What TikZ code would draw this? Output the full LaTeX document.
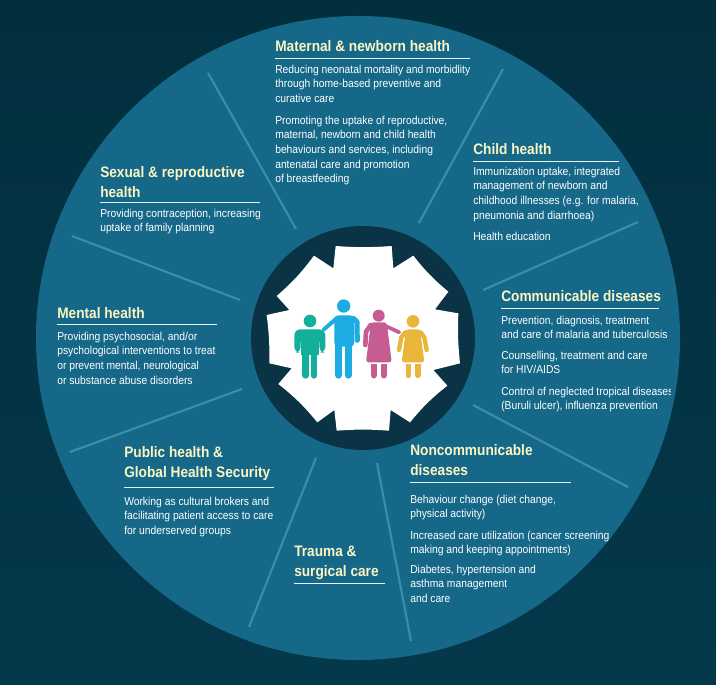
\documentclass[tikz,border=0pt]{standalone}
\usepackage{fontspec}
\setmainfont{Liberation Sans}[FakeStretch=0.9]
\definecolor{darktop}{HTML}{022F3E}
\definecolor{darkbottom}{HTML}{04384B}
\definecolor{discblue}{HTML}{156888}
\definecolor{hubdark}{HTML}{0A3345}
\definecolor{spokeblue}{HTML}{3A8FA8}
\definecolor{headcream}{HTML}{FBF5C4}
\definecolor{boyteal}{HTML}{12B09B}
\definecolor{manblue}{HTML}{1AACE3}
\definecolor{womanpink}{HTML}{C55C92}
\definecolor{girlyellow}{HTML}{E9B53A}
\tikzset{
  heading/.style={anchor=north west,yshift=8.4pt,inner sep=0pt,align=left,text=headcream,font=\fontsize{11.4}{15}\selectfont\bfseries},
  bodytext/.style={anchor=north west,yshift=6.3pt,inner sep=0pt,align=left,text=white,font=\fontsize{8.6}{11}\selectfont},
  headrule/.style={draw=white!88!spokeblue,line width=0.7pt},
  spoke/.style={draw=spokeblue,line width=1.6pt},
  limb/.style={line cap=round,line width=#1*0.25pt}
}

\begin{document}
\begin{tikzpicture}[x=0.75pt,y=-0.75pt]
  \useasboundingbox (0,0) rectangle (716,684);
  \shade[top color=darktop,bottom color=darkbottom] (0,0) rectangle (716,684);
  \fill[discblue] (358,338) circle[radius=322];
  % spokes
  \foreach \ax/\ay/\bx/\by in {208/73/296/229, 503/69/419/223, 638/222/483/290, 628/487/473/405,
    411/641/377/463, 249/627/316/458, 70/452/242/389, 72/236/240/300}
    \draw[spoke] (\ax,\ay)--(\bx,\by);
  % hub
  \fill[hubdark] (363,338) circle[radius=112];
  \begin{scope}[shift={(240,220)},x=0.25pt,y=-0.25pt]
    \fill[white] (287,78) to[bend right=4] (455,78)--(460,145)--(520,107) to[bend right=6] (625,215)--(585,268)--(655,280)
      to[bend right=4] (660,430)--(580,450)--(622,497) to[bend right=6] (510,607)--(452,570)--(447,632)
      to[bend right=4] (290,632)--(283,570)--(232,607) to[bend right=6] (115,492)--(155,445)--(88,430)
      to[bend right=4] (80,285)--(148,270)--(110,228) to[bend right=6] (222,107)--(280,145)--cycle;
    % boy
    \begin{scope}[color=boyteal,fill=boyteal]
      \fill (210,303) circle[radius=19];
      \fill[rounded corners=4pt] (163,398)--(163,328)--(256,328)--(256,398)--(238,398)--(238,350)--(182,350)--(182,398)--cycle;
      \fill (184,335) rectangle (236,405);
      \draw[limb=20] (197,400)--(197,466);
      \draw[limb=20] (222,400)--(222,466);
    \end{scope}
    % man
    \begin{scope}[color=manblue,fill=manblue]
      \fill (311,258) circle[radius=20];
      \fill[rounded corners=3pt] (283,286)--(343,286)--(343,380)--(283,380)--cycle;
      \draw[limb=22] (296,375)--(296,465);
      \draw[limb=22] (325,375)--(325,465);
      \draw[limb=15,line join=round] (340,295)--(351,305)--(352,361);
      \draw[limb=12] (290,295)--(252,328);
    \end{scope}
    % woman
    \begin{scope}[color=womanpink,fill=womanpink]
      \fill (416,287) circle[radius=18];
      \fill[rounded corners=2pt] (393,307)--(440,307)--(455,427)--(378,427)--cycle;
      \fill (392.5,432) rectangle (411.5,450);
      \fill (421.5,432) rectangle (440.5,450);
      \draw[limb=19] (402,450)--(402,466);
      \draw[limb=19] (431,450)--(431,466);
      \draw[limb=14,line join=round] (392,315)--(378,335)--(376,375);
      \draw[limb=11] (437,318)--(478,337);
    \end{scope}
    % girl
    \begin{scope}[color=girlyellow,fill=girlyellow]
      \fill (519,304) circle[radius=19];
      \fill[rounded corners=2pt] (498,328)--(540,328)--(553,427)--(485,427)--cycle;
      \fill (496.5,432) rectangle (513.5,450);
      \fill (524.5,432) rectangle (541.5,450);
      \draw[limb=17] (505,450)--(505,466);
      \draw[limb=17] (533,450)--(533,466);
      \draw[limb=13,line join=round] (496,337)--(484,352)--(477,390);
      \draw[limb=13,line join=round] (542,337)--(553,352)--(560,390);
    \end{scope}
  \end{scope}
  % maternal
  \node[heading] (maternalhead) at (275,51) {Maternal \& newborn health};
  \draw[headrule] (275,58)--(470,58);
  \node[bodytext] (maternalone) at (275,73) {Reducing neonatal mortality and morbidlity\\through home-based preventive and\\curative care};
  \node[bodytext] (maternaltwo) at (275,124) {Promoting the uptake of reproductive,\\maternal, newborn and child health\\behaviours and services, including\\antenatal care and promotion\\of breastfeeding};
  % child
  \node[heading] (childhead) at (473,154) {Child health};
  \draw[headrule] (473,161)--(619,161);
  \node[bodytext] (childone) at (473,175) {Immunization uptake, integrated\\management of newborn and\\childhood illnesses (e.g. for malaria,\\pneumonia and diarrhoea)};
  \node[bodytext] (childtwo) at (473,240) {Health education};
  % communicable
  \node[heading] (commhead) at (501,301) {Communicable diseases};
  \draw[headrule] (501,308)--(659,308);
  \node[bodytext] (commone) at (501,324) {Prevention, diagnosis, treatment\\and care of malaria and tuberculosis};
  \node[bodytext] (commtwo) at (501,359) {Counselling, treatment and care\\for HIV/AIDS};
  \begin{scope}
    \clip (495,380) rectangle (670,420);
    \node[bodytext] (commthree) at (501,395) {Control of neglected tropical diseases\\(Buruli ulcer), influenza prevention};
  \end{scope}
  % noncommunicable
  \node[heading] (ncdhead) at (410,455) {Noncommunicable\\diseases};
  \draw[headrule] (410,482)--(571,482);
  \node[bodytext] (ncdone) at (410,503) {Behaviour change (diet change,\\physical activity)};
  \node[bodytext] (ncdtwo) at (410,539) {Increased care utilization (cancer screening\\making and keeping appointments)};
  \node[bodytext] (ncdthree) at (410,573) {Diabetes, hypertension and\\asthma management\\and care};
  % trauma
  \node[heading] (traumahead) at (294,557) {Trauma \&\\surgical care};
  \draw[headrule] (294,583)--(385,583);
  % public health
  \node[heading] (publichead) at (124,457) {Public health \&\\Global Health Security};
  \draw[headrule] (124,487)--(274,487);
  \node[bodytext] (publicone) at (124,505) {Working as cultural brokers and\\facilitating patient access to care\\for underserved groups};
  % mental
  \node[heading] (mentalhead) at (57,318) {Mental health};
  \draw[headrule] (57,324)--(217,324);
  \node[bodytext] (mentalone) at (57,340) {Providing psychosocial, and/or\\psychological interventions to treat\\or prevent mental, neurological\\or substance abuse disorders};
  % sexual
  \node[heading] (sexualhead) at (100,177) {Sexual \& reproductive\\health};
  \draw[headrule] (100,202)--(260,202);
  \node[bodytext] (sexualone) at (100,217) {Providing contraception, increasing\\uptake of family planning};
\end{tikzpicture}
\end{document}
